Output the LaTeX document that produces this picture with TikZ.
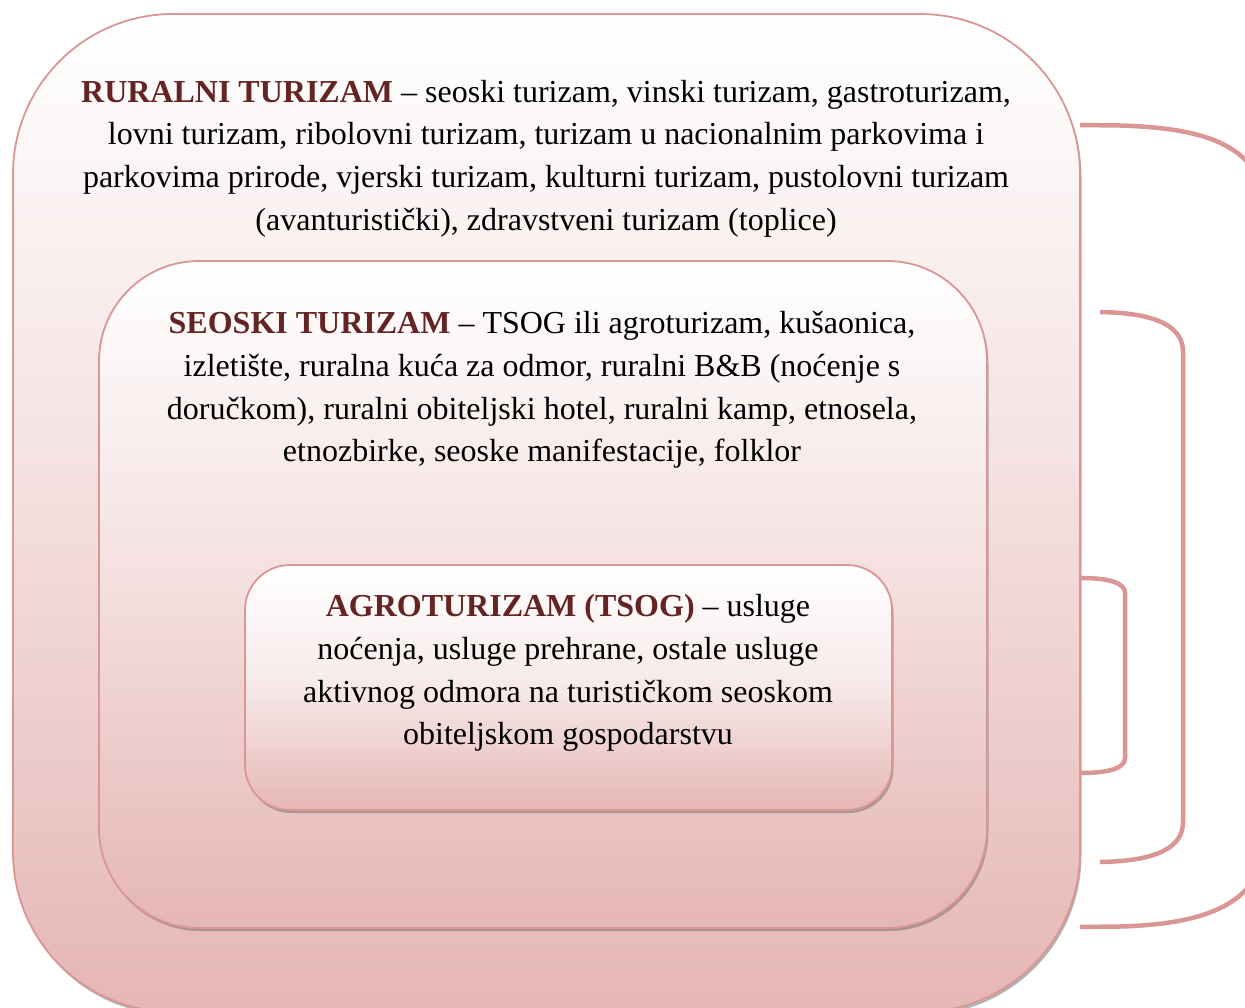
\documentclass[tikz,border=0pt]{standalone}
\usepackage{fontspec}
\setmainfont{Liberation Serif}
\usetikzlibrary{shadows}
\definecolor{rim}{RGB}{217,150,148}
\definecolor{pinkbot}{RGB}{229,182,181}
\definecolor{titlered}{RGB}{99,36,35}
\tikzset{
  layerbox/.style={draw=rim, line width=1.8pt, top color=white, bottom color=pinkbot,
    middle color=white!55!pinkbot, shading angle=0,
    drop shadow={shadow xshift=1.5pt, shadow yshift=-3pt, opacity=0.55, fill=black!55},
    inner sep=0pt, outer sep=0pt},
  layertext/.style={align=center, inner sep=0pt, font=\fontsize{32}{42.7}\selectfont},
  bracketline/.style={draw=rim, line width=4.5pt},
}
\newcommand{\ttl}[1]{\textbf{\textcolor{titlered}{#1}}}
\begin{document}
\begin{tikzpicture}[x=1pt,y=-1pt]
\clip (0,0) rectangle (1245,1007);
\fill[white] (0,0) rectangle (1245,1007);
% boxes
\node[layerbox, rounded corners=160pt, minimum width=1067pt, minimum height=998pt] (rural) at (546.5,513) {};
\node[layerbox, rounded corners=100pt, minimum width=888pt, minimum height=667pt] (seoski) at (543,594.5) {};
\node[layerbox, rounded corners=45pt, minimum width=647pt, minimum height=245pt, top color=white, bottom color=pinkbot, middle color=white!70!pinkbot] (agro) at (568.5,687.5) {};
% texts
\node[layertext] (ruraltxt) at (546,158.5) {\ttl{RURALNI TURIZAM} – seoski turizam, vinski turizam, gastroturizam,\\
lovni turizam, ribolovni turizam, turizam u nacionalnim parkovima i\\
parkovima prirode, vjerski turizam, kulturni turizam, pustolovni turizam\\
(avanturistički), zdravstveni turizam (toplice)};
\node[layertext] (seoskitxt) at (542,390) {\ttl{SEOSKI TURIZAM} – TSOG ili agroturizam, kušaonica,\\
izletište, ruralna kuća za odmor, ruralni B\&B (noćenje s\\
doručkom), ruralni obiteljski hotel, ruralni kamp, etnosela,\\
etnozbirke, seoske manifestacije, folklor};
\node[layertext] (agrotxt) at (568,673) {\ttl{AGROTURIZAM (TSOG)} – usluge\\
noćenja, usluge prehrane, ostale usluge\\
aktivnog odmora na turističkom seoskom\\
obiteljskom gospodarstvu};
% brackets
\coordinate (b1a) at (1080,125);
\coordinate (b1b) at (1080,927);
\coordinate (b2a) at (1100,312);
\coordinate (b2b) at (1100,862);
\coordinate (b3a) at (1080,578);
\coordinate (b3b) at (1080,773);
\draw[bracketline] (b1a) -- (1120,125.5) .. controls (1205,128) and (1245,145) .. (1262,185) -- (1262,865) .. controls (1245,905) and (1205,924) .. (1120,926.5) -- (b1b);
\draw[bracketline] (b2a) .. controls (1160,313) and (1183,328) .. (1183,352) -- (1183,822) .. controls (1183,846) and (1160,861) .. (b2b);
\draw[bracketline] (b3a) .. controls (1110,578) and (1125,583) .. (1125,593) -- (1125,758) .. controls (1125,768) and (1110,773) .. (b3b);
\end{tikzpicture}
\end{document}
